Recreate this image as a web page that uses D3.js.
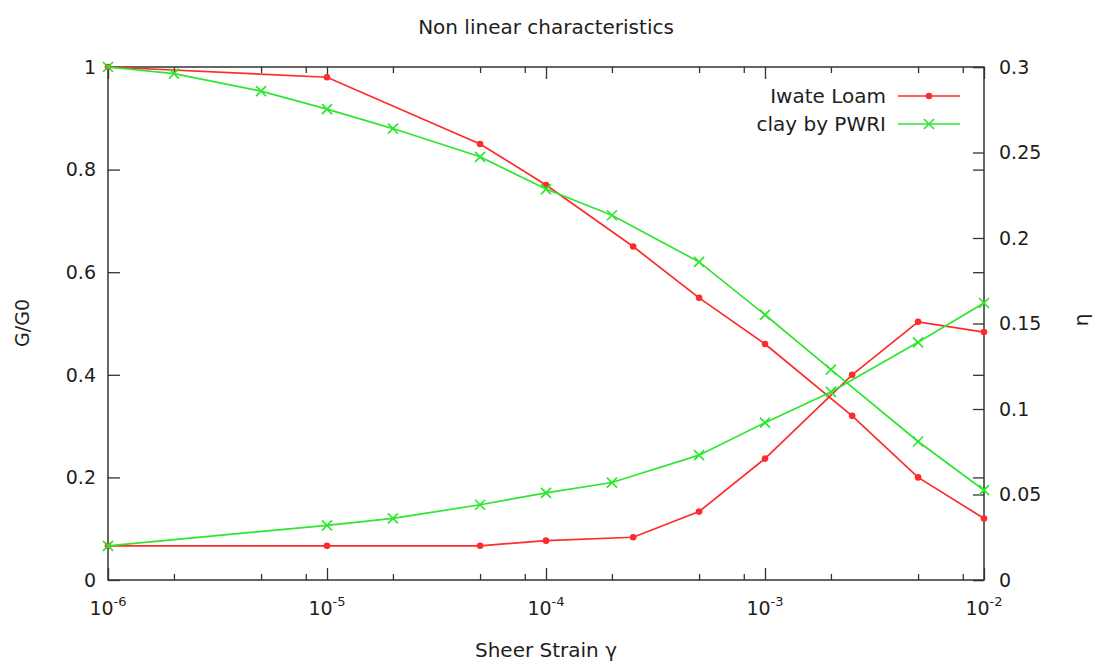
<!DOCTYPE html>
<html>
<head>
<meta charset="utf-8">
<script src="https://cdn.jsdelivr.net/npm/d3@7"></script>
<style>
  html, body { margin: 0; padding: 0; background: #fff; }
  svg { display: block; }
  text { font-family: "DejaVu Sans", Verdana, sans-serif; fill: #1e1e1e; }
</style>
</head>
<body>
<svg id="chart" width="1095" height="664"></svg>
<script>
// Shear strain at each measured point
const loamStrain = [1e-6, 1e-5, 5e-5, 1e-4, 2.5e-4, 5e-4, 1e-3, 2.5e-3, 5e-3, 1e-2];
const loamG      = [1.0, 0.98, 0.85, 0.77, 0.65, 0.55, 0.46, 0.32, 0.20, 0.12];
const loamH      = [0.02, 0.02, 0.02, 0.023, 0.025, 0.04, 0.071, 0.12, 0.151, 0.145];

const clayGStrain = [1e-6, 2e-6, 5e-6, 1e-5, 2e-5, 5e-5, 1e-4, 2e-4, 5e-4, 1e-3, 2e-3, 5e-3, 1e-2];
const clayG       = [1.0, 0.987, 0.953, 0.918, 0.88, 0.825, 0.762, 0.711, 0.62, 0.517, 0.41, 0.27, 0.175];
const clayHStrain = [1e-6, 1e-5, 2e-5, 5e-5, 1e-4, 2e-4, 5e-4, 1e-3, 2e-3, 5e-3, 1e-2];
const clayH       = [0.02, 0.032, 0.036, 0.044, 0.051, 0.057, 0.073, 0.092, 0.11, 0.139, 0.162];

// Tick values
const xMajor = [1e-6, 1e-5, 1e-4, 1e-3, 1e-2];
const xMajorExp = ["-6", "-5", "-4", "-3", "-2"];
const xMinor = [2e-6, 5e-6, 8e-6, 2e-5, 5e-5, 8e-5, 2e-4, 5e-4, 8e-4, 2e-3, 5e-3, 8e-3];
const yTicks = [0, 0.2, 0.4, 0.6, 0.8, 1];
const yTickLabels = ["0", "0.2", "0.4", "0.6", "0.8", "1"];
const y2Ticks = [0, 0.05, 0.1, 0.15, 0.2, 0.25, 0.3];
const y2TickLabels = ["0", "0.05", "0.1", "0.15", "0.2", "0.25", "0.3"];

const seriesNames = ["Iwate Loam", "clay by PWRI"];
const red = "#ff2b2b", green = "#2ee62e", axisColor = "#333";

const plotLeft = 108, plotRight = 984, plotTop = 67, plotBottom = 580;
const svg = d3.select("#chart");

const x = d3.scaleLog().domain([1e-6, 1e-2]).range([plotLeft, plotRight]);
const y = d3.scaleLinear().domain([0, 1]).range([plotBottom, plotTop]);
const y2 = d3.scaleLinear().domain([0, 0.3]).range([plotBottom, plotTop]);

// Title
svg.append("text").attr("x", 546).attr("y", 34).attr("text-anchor", "middle")
  .style("font-size", "20px").text("Non linear characteristics");

// Axes: ticks drawn inward
const tickStyle = g => { g.select(".domain").remove(); g.selectAll("line").attr("stroke", axisColor).attr("stroke-width", 1.3); g.selectAll("text").remove(); };

svg.append("g").attr("transform", `translate(0,${plotBottom})`)
  .call(d3.axisBottom(x).tickValues(xMajor).tickSize(-12)).call(tickStyle);
svg.append("g").attr("transform", `translate(0,${plotBottom})`)
  .call(d3.axisBottom(x).tickValues(xMinor).tickSize(-6)).call(tickStyle);
svg.append("g").attr("transform", `translate(0,${plotTop})`)
  .call(d3.axisTop(x).tickValues(xMajor).tickSize(-12)).call(tickStyle);
svg.append("g").attr("transform", `translate(0,${plotTop})`)
  .call(d3.axisTop(x).tickValues(xMinor).tickSize(-6)).call(tickStyle);
svg.append("g").attr("transform", `translate(${plotLeft},0)`)
  .call(d3.axisLeft(y).tickValues(yTicks).tickSize(-12)).call(tickStyle);
svg.append("g").attr("transform", `translate(${plotRight},0)`)
  .call(d3.axisRight(y).tickValues(yTicks).tickSize(-11)).call(tickStyle);
svg.append("g").attr("transform", `translate(${plotRight},0)`)
  .call(d3.axisRight(y2).tickValues(y2Ticks).tickSize(-11)).call(tickStyle);

// Frame
svg.append("rect").attr("x", plotLeft).attr("y", plotTop)
  .attr("width", plotRight - plotLeft).attr("height", plotBottom - plotTop)
  .attr("fill", "none").attr("stroke", axisColor).attr("stroke-width", 1.5);

// Tick labels
svg.append("g").selectAll("text").data(yTicks).join("text")
  .attr("x", 96).attr("y", d => y(d)).attr("dy", "0.36em").attr("text-anchor", "end")
  .style("font-size", "19px").text((d, i) => yTickLabels[i]);
svg.append("g").selectAll("text").data(y2Ticks).join("text")
  .attr("x", 999).attr("y", d => y2(d)).attr("dy", "0.36em").attr("text-anchor", "start")
  .style("font-size", "19px").text((d, i) => y2TickLabels[i]);
const xl = svg.append("g").selectAll("text").data(xMajor).join("text")
  .attr("x", d => x(d)).attr("y", 615).attr("text-anchor", "middle").style("font-size", "19px");
xl.append("tspan").text("10");
xl.append("tspan").attr("dy", -9).style("font-size", "13px").text((d, i) => xMajorExp[i]);

// Axis titles
svg.append("text").attr("x", 546).attr("y", 657).attr("text-anchor", "middle")
  .style("font-size", "20px").text("Sheer Strain γ");
svg.append("text").attr("transform", "translate(29,323) rotate(-90)").attr("text-anchor", "middle")
  .style("font-size", "19px").text("G/G0");
svg.append("text").attr("transform", "translate(1088,320) rotate(-90)").attr("text-anchor", "middle")
  .style("font-size", "20px").text("η");

// Lines and markers
const lineG = d3.line().x(d => x(d[0])).y(d => y(d[1]));
const lineH = d3.line().x(d => x(d[0])).y(d => y2(d[1]));
const plot = svg.append("g");

function dots(data, sc) {
  plot.append("g").selectAll("circle").data(data).join("circle")
    .attr("cx", d => x(d[0])).attr("cy", d => sc(d[1])).attr("r", 3.3).attr("fill", red);
}
function crosses(data, sc) {
  const s = 5;
  plot.append("g").selectAll("path").data(data).join("path")
    .attr("d", d => { const cx = x(d[0]), cy = sc(d[1]);
      return `M${cx - s},${cy - s}L${cx + s},${cy + s}M${cx - s},${cy + s}L${cx + s},${cy - s}`; })
    .attr("stroke", green).attr("stroke-width", 1.7).attr("fill", "none");
}

const loamGData = loamStrain.map((s, i) => [s, loamG[i]]);
const loamHData = loamStrain.map((s, i) => [s, loamH[i]]);
const clayGData = clayGStrain.map((s, i) => [s, clayG[i]]);
const clayHData = clayHStrain.map((s, i) => [s, clayH[i]]);

plot.append("path").datum(loamGData).attr("d", lineG).attr("fill", "none").attr("stroke", red).attr("stroke-width", 1.7);
plot.append("path").datum(loamHData).attr("d", lineH).attr("fill", "none").attr("stroke", red).attr("stroke-width", 1.7);
dots(loamGData, y); dots(loamHData, y2);
plot.append("path").datum(clayGData).attr("d", lineG).attr("fill", "none").attr("stroke", green).attr("stroke-width", 1.7);
plot.append("path").datum(clayHData).attr("d", lineH).attr("fill", "none").attr("stroke", green).attr("stroke-width", 1.7);
crosses(clayGData, y); crosses(clayHData, y2);

// Legend
const legendY = [96, 124];
const legend = svg.append("g");
seriesNames.forEach((name, i) => {
  const ly = legendY[i];
  legend.append("text").attr("x", 886).attr("y", ly).attr("dy", "0.36em").attr("text-anchor", "end")
    .style("font-size", "20px").text(name);
  legend.append("line").attr("x1", 898).attr("x2", 960).attr("y1", ly).attr("y2", ly)
    .attr("stroke", i === 0 ? red : green).attr("stroke-width", 1.7);
});
legend.append("circle").attr("cx", 929).attr("cy", legendY[0]).attr("r", 3.3).attr("fill", red);
legend.append("path").attr("d", `M924,${legendY[1] - 5}L934,${legendY[1] + 5}M924,${legendY[1] + 5}L934,${legendY[1] - 5}`)
  .attr("stroke", green).attr("stroke-width", 1.7);
</script>
</body>
</html>
